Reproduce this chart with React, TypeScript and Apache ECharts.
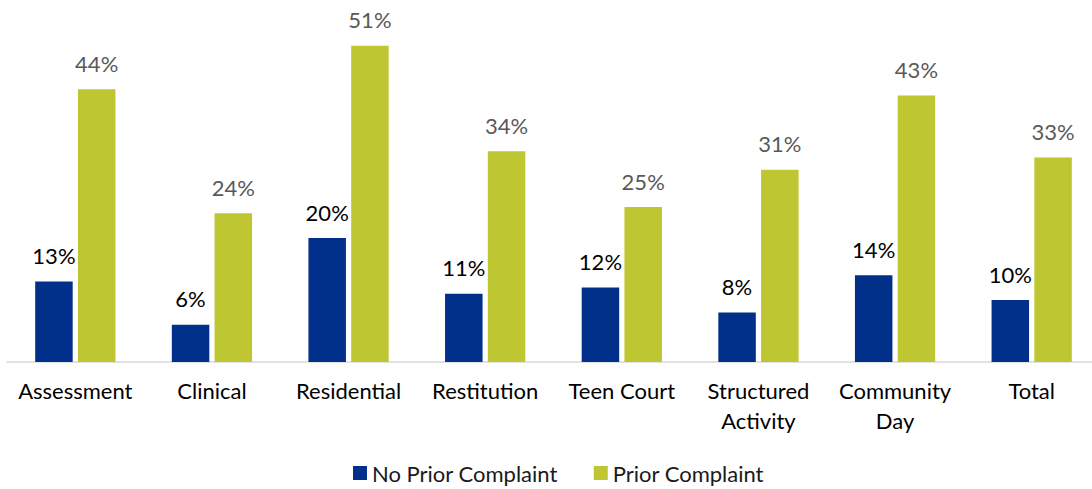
import React, { useEffect, useRef } from "react";
import * as echarts from "echarts";

const categories = [
  "Assessment",
  "Clinical",
  "Residential",
  "Restitution",
  "Teen Court",
  "Structured\nActivity",
  "Community\nDay",
  "Total",
];
const noPrior = [0.13, 0.06, 0.2, 0.11, 0.12, 0.08, 0.14, 0.1];
const prior = [0.44, 0.24, 0.51, 0.34, 0.25, 0.31, 0.43, 0.33];
const seriesNames = ["No Prior Complaint", "Prior Complaint"];

const FONT = "Lato";

export default function App() {
  const ref = useRef<HTMLDivElement>(null);
  useEffect(() => {
    document.body.style.margin = "0";
    if (!ref.current) return;
    const chart = echarts.init(ref.current, undefined, { renderer: "svg" });
    const pct = (p: any) => Math.round(p.value * 100) + "%";
    chart.setOption({
      animation: false,
      backgroundColor: "#ffffff",
      textStyle: { fontFamily: FONT },
      grid: { left: 7, top: 21, right: 0, bottom: 127, containLabel: false },
      legend: {
        bottom: 0,
        left: 348,
        itemWidth: 14,
        itemHeight: 14,
        itemGap: 36,
        icon: "rect",
        textStyle: { fontFamily: FONT, fontSize: 22, color: "#1a1a1a" },
        data: seriesNames,
      },
      xAxis: {
        type: "category",
        data: categories,
        axisLine: { show: true, lineStyle: { color: "#d9d9d9", width: 1.5 } },
        axisTick: { show: false },
        axisLabel: {
          interval: 0,
          margin: 13,
          fontFamily: FONT,
          fontSize: 22,
          lineHeight: 30,
          color: "#000000",
        },
      },
      yAxis: {
        type: "value",
        min: 0,
        max: 0.55,
        show: false,
        splitLine: { show: false },
      },
      series: [
        {
          name: seriesNames[0],
          type: "bar",
          data: noPrior,
          barWidth: 37.5,
          barGap: "14%",
          itemStyle: { color: "#00308A" },
          label: {
            show: true,
            position: "top",
            distance: 15,
            formatter: pct,
            fontFamily: FONT,
            fontSize: 22,
            color: "#000000",
          },
        },
        {
          name: seriesNames[1],
          type: "bar",
          data: prior,
          barWidth: 37.5,
          barGap: "14%",
          itemStyle: { color: "#BEC632" },
          label: {
            show: true,
            position: "top",
            distance: 15,
            formatter: pct,
            fontFamily: FONT,
            fontSize: 22,
            color: "#595959",
          },
        },
      ],
    });
    return () => chart.dispose();
  }, []);
  return (
    <div style={{ width: 1092, height: 489, overflow: "hidden" }}>
      <div ref={ref} style={{ width: 1100, height: 489 }} />
    </div>
  );
}
